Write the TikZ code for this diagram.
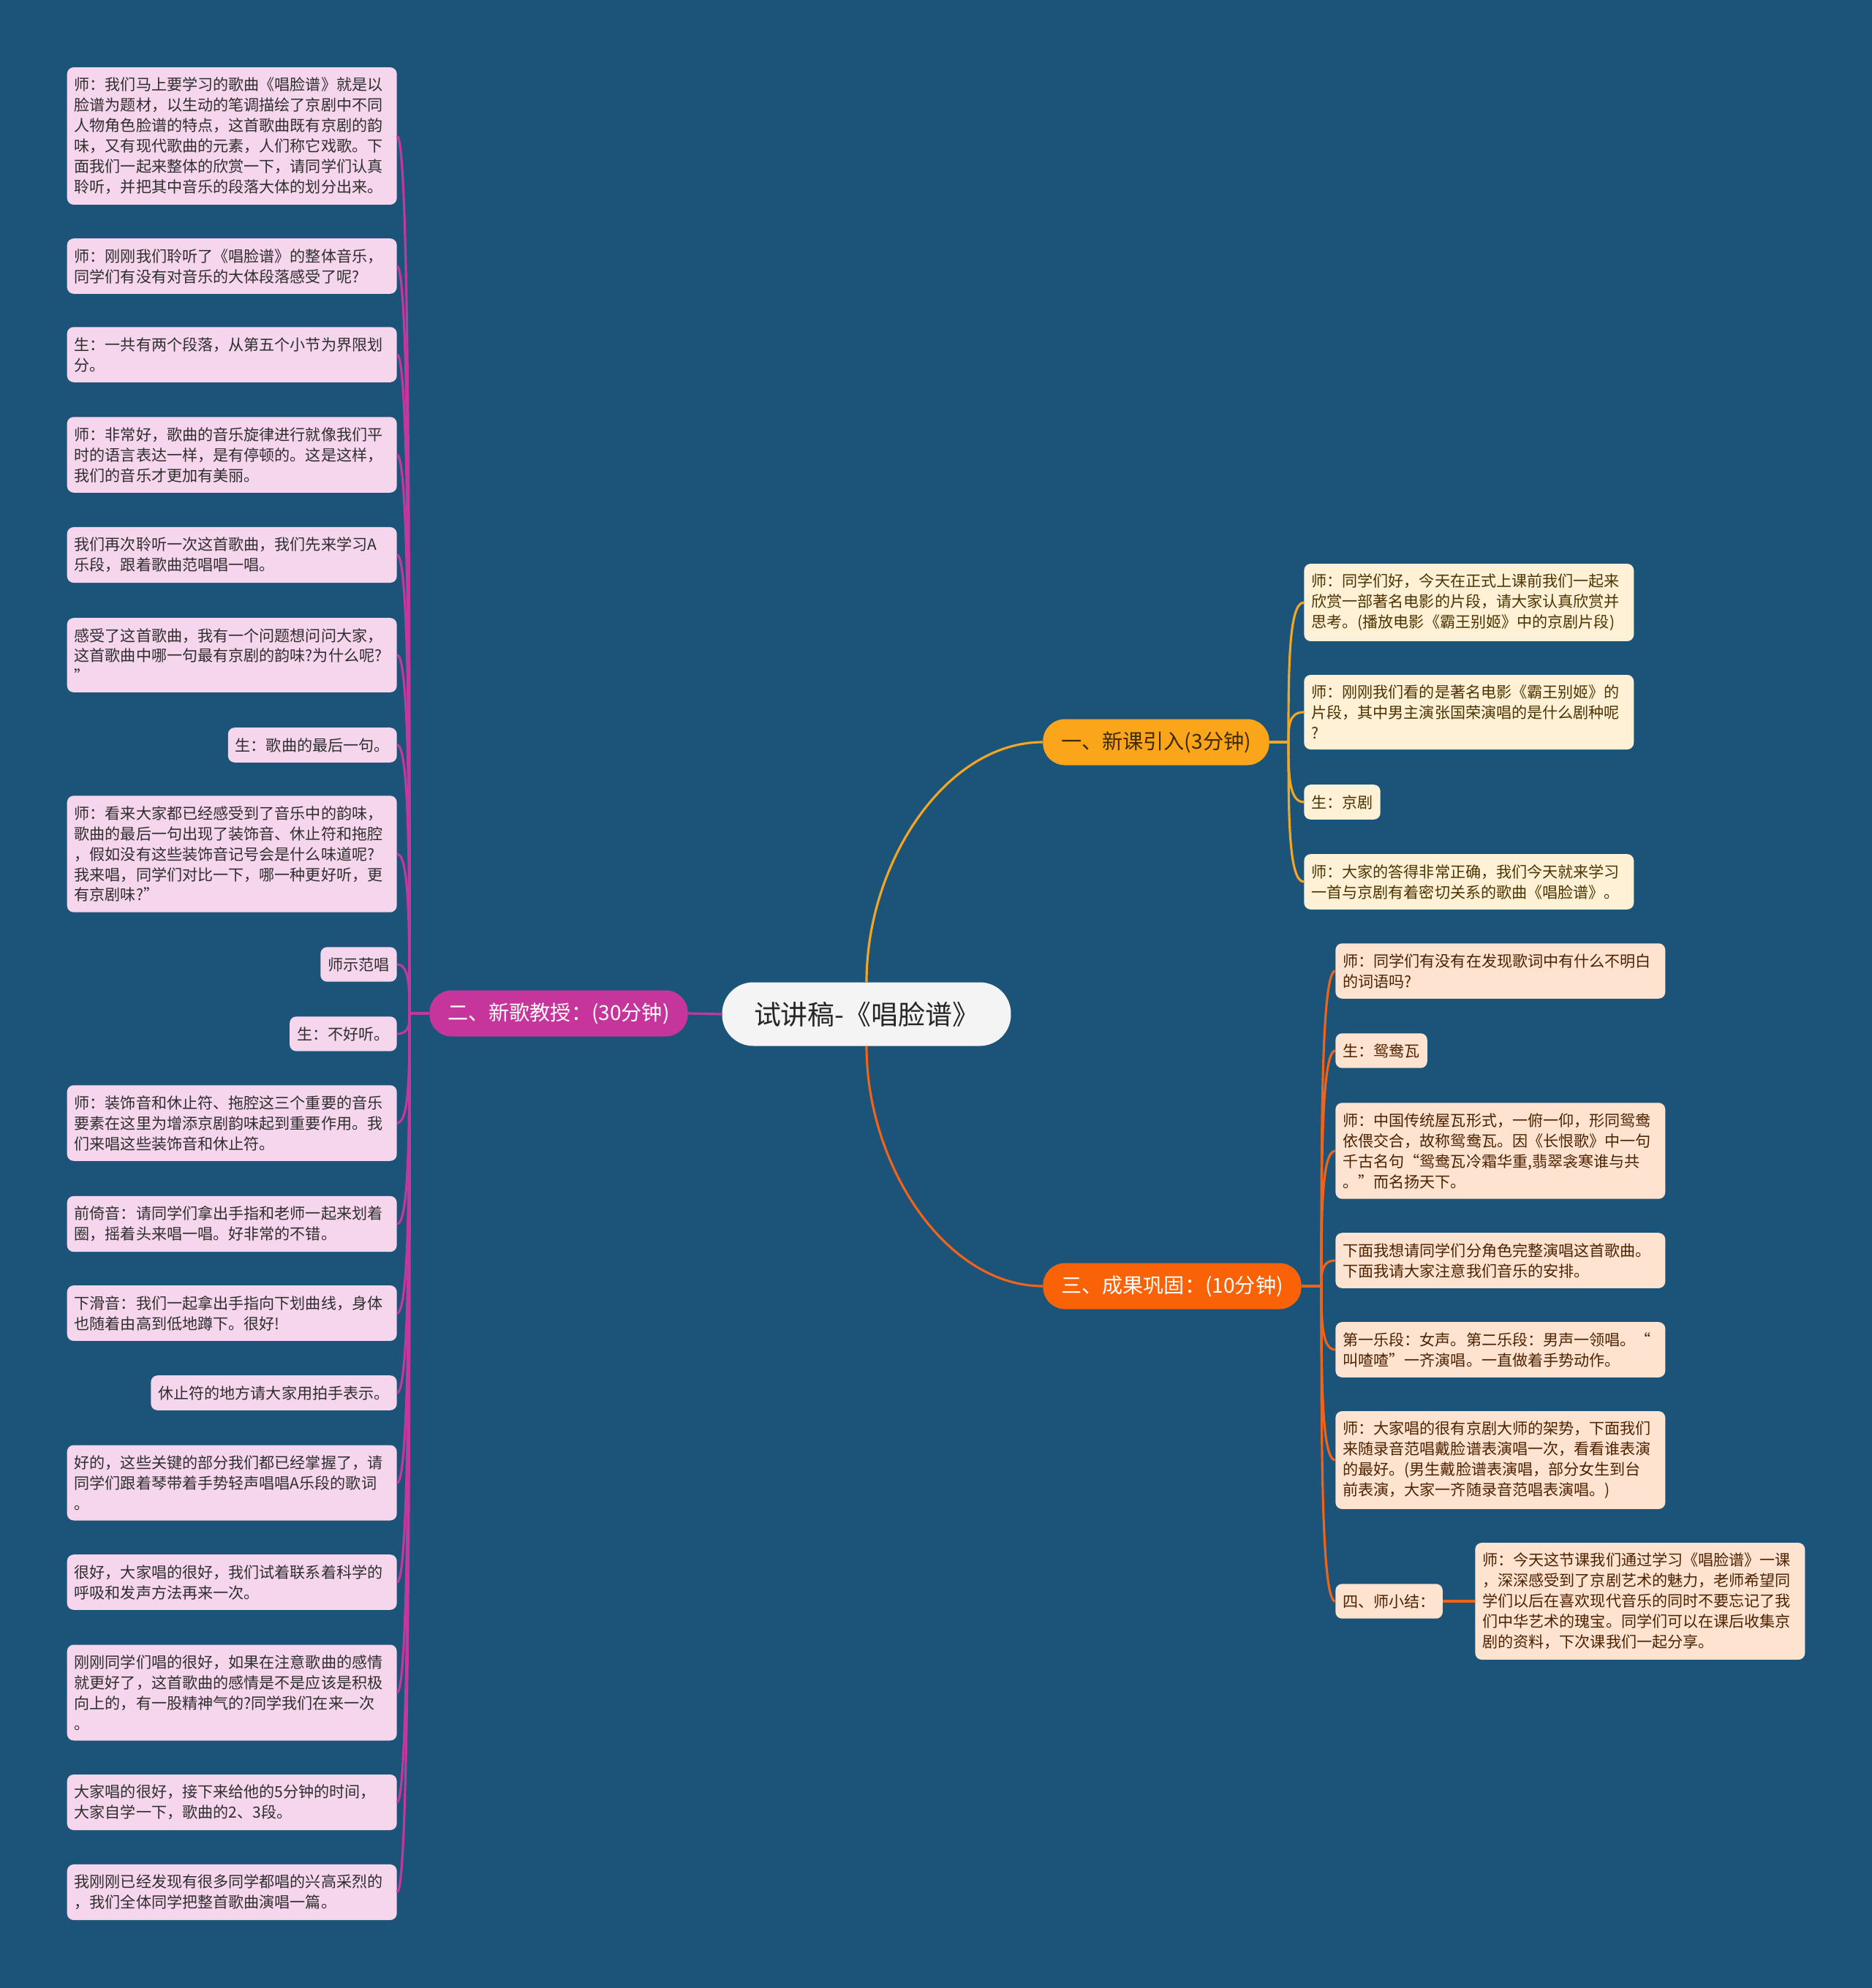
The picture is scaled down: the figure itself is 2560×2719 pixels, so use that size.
\documentclass[tikz,border=0pt]{standalone}
\usepackage{fontspec}
\setmainfont{Noto Sans CJK SC}
\usepackage{tikz}
\usetikzlibrary{calc}
\usepackage{xcolor}
\XeTeXlinebreaklocale "zh"

\definecolor{bgblue}{HTML}{1B5478}
\definecolor{rootfill}{HTML}{F4F4F4}
\definecolor{introfill}{HTML}{FBA51A}
\definecolor{teachfill}{HTML}{C6359C}
\definecolor{reviewfill}{HTML}{FA6207}
\definecolor{introline}{HTML}{F2A623}
\definecolor{teachline}{HTML}{C337A0}
\definecolor{reviewline}{HTML}{F06318}
\definecolor{pinkfill}{HTML}{F5D6EC}
\definecolor{creamfill}{HTML}{FFF1D6}
\definecolor{peachfill}{HTML}{FFE3D1}
\definecolor{pinktext}{HTML}{2E2E2E}
\definecolor{creamtext}{HTML}{4D3300}
\definecolor{peachtext}{HTML}{4D2200}

\begin{document}
\begin{tikzpicture}[x=0.02cm,y=-0.02cm,
	rootbox/.style={fill=rootfill,text=black!85,rounded corners=0.85cm,minimum width=7.9cm,minimum height=1.74cm,font=\fontsize{21}{25}\selectfont},
	branch/.style={rounded corners=0.6cm,minimum height=1.26cm,inner xsep=0.5cm,font=\fontsize{16}{19}\selectfont},
	leaf/.style={rounded corners=0.18cm,inner xsep=0.2cm,inner ysep=0.28cm,minimum height=0.93cm,align=left,font=\fontsize{12}{15.9}\selectfont},
	wide/.style={text width=8.62cm},
	pinkleaf/.style={leaf,fill=pinkfill,text=pinktext,anchor=east},
	creamleaf/.style={leaf,fill=creamfill,text=creamtext,anchor=west},
	peachleaf/.style={leaf,fill=peachfill,text=peachtext,anchor=west},
	link/.style={line width=1.8pt}]
	
	% Background
	\fill[bgblue] (0,0) rectangle (2560,2719);
	
	% Root and branches
	\node[rootbox] (root) at (1185,1387) {试讲稿-《唱脸谱》};
	\node[branch,fill=introfill,text=creamtext!80!black] (intro) at (1581,1015) {一、新课引入(3分钟)};
	\node[branch,fill=teachfill,text=white] (teach) at (764,1386) {二、新歌教授：(30分钟)};
	\node[branch,fill=reviewfill,text=white] (review) at (1603,1759) {三、成果巩固：(10分钟)};
	
	\draw[link,introline] (root.north) .. controls +(0,-164) and +(-132,0) .. (intro.west);
	\draw[link,reviewline] (root.south) .. controls +(0,164) and +(-132,0) .. (review.west);
	\draw[link,teachline] (root.west) -- (teach.east);
	
	% Intro leaves
	\node[creamleaf,wide] (intro1) at (1783,824) {师：同学们好，今天在正式上课前我们一起来\\欣赏一部著名电影的片段，请大家认真欣赏并\\思考。(播放电影《霸王别姬》中的京剧片段)};
	\node[creamleaf,wide] (intro2) at (1783,974) {师：刚刚我们看的是著名电影《霸王别姬》的\\片段，其中男主演张国荣演唱的是什么剧种呢\\?};
	\node[creamleaf] (intro3) at (1783,1097) {生：京剧};
	\node[creamleaf,wide] (intro4) at (1783,1206) {师：大家的答得非常正确，我们今天就来学习\\一首与京剧有着密切关系的歌曲《唱脸谱》。};
	
	% Teaching leaves
	\node[pinkleaf,wide] (teach1) at (543,186) {师：我们马上要学习的歌曲《唱脸谱》就是以\\脸谱为题材，以生动的笔调描绘了京剧中不同\\人物角色脸谱的特点，这首歌曲既有京剧的韵\\味，又有现代歌曲的元素，人们称它戏歌。下\\面我们一起来整体的欣赏一下，请同学们认真\\聆听，并把其中音乐的段落大体的划分出来。};
	\node[pinkleaf,wide] (teach2) at (543,364) {师：刚刚我们聆听了《唱脸谱》的整体音乐，\\同学们有没有对音乐的大体段落感受了呢?};
	\node[pinkleaf,wide] (teach3) at (543,485) {生：一共有两个段落，从第五个小节为界限划\\分。};
	\node[pinkleaf,wide] (teach4) at (543,622) {师：非常好，歌曲的音乐旋律进行就像我们平\\时的语言表达一样，是有停顿的。这是这样，\\我们的音乐才更加有美丽。};
	\node[pinkleaf,wide] (teach5) at (543,759) {我们再次聆听一次这首歌曲，我们先来学习A\\乐段，跟着歌曲范唱唱一唱。};
	\node[pinkleaf,wide] (teach6) at (543,896) {感受了这首歌曲，我有一个问题想问问大家，\\这首歌曲中哪一句最有京剧的韵味?为什么呢?\\”};
	\node[pinkleaf] (teach7) at (543,1019) {生：歌曲的最后一句。};
	\node[pinkleaf,wide] (teach8) at (543,1168) {师：看来大家都已经感受到了音乐中的韵味，\\歌曲的最后一句出现了装饰音、休止符和拖腔\\，假如没有这些装饰音记号会是什么味道呢?\\我来唱，同学们对比一下，哪一种更好听，更\\有京剧味?”};
	\node[pinkleaf] (teach9) at (543,1319) {师示范唱};
	\node[pinkleaf] (teach10) at (543,1414) {生：不好听。};
	\node[pinkleaf,wide] (teach11) at (543,1536) {师：装饰音和休止符、拖腔这三个重要的音乐\\要素在这里为增添京剧韵味起到重要作用。我\\们来唱这些装饰音和休止符。};
	\node[pinkleaf,wide] (teach12) at (543,1674) {前倚音：请同学们拿出手指和老师一起来划着\\圈，摇着头来唱一唱。好非常的不错。};
	\node[pinkleaf,wide] (teach13) at (543,1796) {下滑音：我们一起拿出手指向下划曲线，身体\\也随着由高到低地蹲下。很好!};
	\node[pinkleaf] (teach14) at (543,1905) {休止符的地方请大家用拍手表示。};
	\node[pinkleaf,wide] (teach15) at (543,2028) {好的，这些关键的部分我们都已经掌握了，请\\同学们跟着琴带着手势轻声唱唱A乐段的歌词\\。};
	\node[pinkleaf,wide] (teach16) at (543,2164) {很好，大家唱的很好，我们试着联系着科学的\\呼吸和发声方法再来一次。};
	\node[pinkleaf,wide] (teach17) at (543,2315) {刚刚同学们唱的很好，如果在注意歌曲的感情\\就更好了，这首歌曲的感情是不是应该是积极\\向上的，有一股精神气的?同学我们在来一次\\。};
	\node[pinkleaf,wide] (teach18) at (543,2465) {大家唱的很好，接下来给他的5分钟的时间，\\大家自学一下，歌曲的2、3段。};
	\node[pinkleaf,wide] (teach19) at (543,2588) {我刚刚已经发现有很多同学都唱的兴高采烈的\\，我们全体同学把整首歌曲演唱一篇。};
	
	% Review leaves
	\node[peachleaf,wide] (review1) at (1826,1328) {师：同学们有没有在发现歌词中有什么不明白\\的词语吗?};
	\node[peachleaf] (review2) at (1826,1437) {生：鸳鸯瓦};
	\node[peachleaf,wide] (review3) at (1826,1574) {师：中国传统屋瓦形式，一俯一仰，形同鸳鸯\\依偎交合，故称鸳鸯瓦。因《长恨歌》中一句\\千古名句“鸳鸯瓦冷霜华重,翡翠衾寒谁与共\\。”而名扬天下。};
	\node[peachleaf,wide] (review4) at (1826,1724) {下面我想请同学们分角色完整演唱这首歌曲。\\下面我请大家注意我们音乐的安排。};
	\node[peachleaf,wide] (review5) at (1826,1846) {第一乐段：女声。第二乐段：男声一领唱。“\\叫喳喳”一齐演唱。一直做着手势动作。};
	\node[peachleaf,wide] (review6) at (1826,1997) {师：大家唱的很有京剧大师的架势，下面我们\\来随录音范唱戴脸谱表演唱一次，看看谁表演\\的最好。(男生戴脸谱表演唱，部分女生到台\\前表演，大家一齐随录音范唱表演唱。)};
	\node[peachleaf] (review7) at (1826,2190) {四、师小结：};
	\node[peachleaf,wide] (summary) at (2017,2190) {师：今天这节课我们通过学习《唱脸谱》一课\\，深深感受到了京剧艺术的魅力，老师希望同\\学们以后在喜欢现代音乐的同时不要忘记了我\\们中华艺术的瑰宝。同学们可以在课后收集京\\剧的资料，下次课我们一起分享。};
	
	% Spines
	\coordinate (s1) at (1762,1015);
	\coordinate (s2) at (560,1386);
	\coordinate (s3) at (1807,1759);
	\draw[link,introline] (intro.east) -- (s1);
	\draw[link,teachline] (teach.west) -- (s2);
	\draw[link,reviewline] (review.east) -- (s3);
	
	\foreach \i in {1,...,4}
	\draw[link,introline] (s1) .. controls ($(s1)!0.5!(s1 |- intro\i.west)$) and (s1 |- intro\i.west) .. (intro\i.west);
	\foreach \i in {1,...,19}
	\draw[link,teachline] (s2) .. controls ($(s2)!0.5!(s2 |- teach\i.east)$) and (s2 |- teach\i.east) .. (teach\i.east);
	\foreach \i in {1,...,7}
	\draw[link,reviewline] (s3) .. controls ($(s3)!0.5!(s3 |- review\i.west)$) and (s3 |- review\i.west) .. (review\i.west);
	
	\draw[link,reviewline] (review7.east) -- (summary.west);
	
\end{tikzpicture}
\end{document}
